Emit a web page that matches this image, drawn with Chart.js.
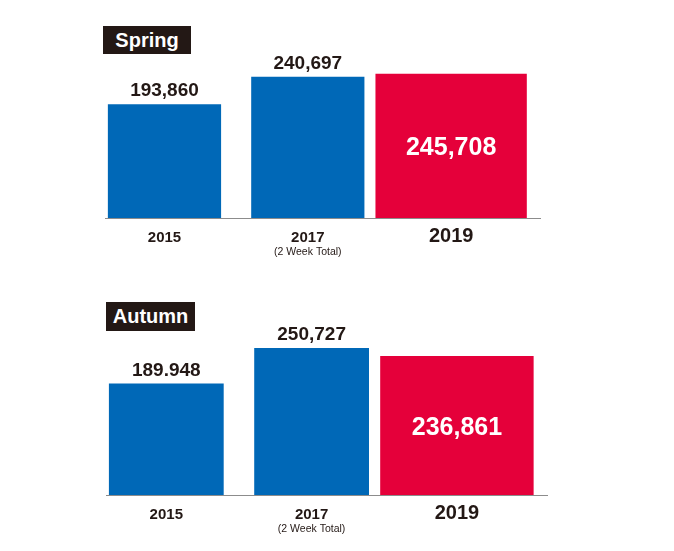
<!DOCTYPE html>
<html>
<head>
<meta charset="utf-8">
<script src="https://cdn.jsdelivr.net/npm/chart.js@4/dist/chart.umd.min.js"></script>
<style>
  html, body { margin: 0; padding: 0; background: #fff; }
  body { width: 674px; height: 551px; position: relative; overflow: hidden; font-family: "Liberation Sans", Arial, sans-serif; }
  .wrap { position: absolute; left: 0; width: 674px; height: 274px; }
  .tag { position: absolute; background: #231815; color: #fff; font-weight: bold; font-size: 20px;
         text-align: center; box-sizing: border-box; line-height: 28px; }
</style>
</head>
<body>
<div class="wrap" style="top:0px"><canvas id="spring"></canvas></div>
<div class="wrap" style="top:277px"><canvas id="autumn"></canvas></div>
<div class="tag" style="left:103px;top:26px;width:88px;height:28px;">Spring</div>
<div class="tag" style="left:106px;top:302px;width:89px;height:29px;line-height:29px;">Autumn</div>
<script>
// ---- data ----
const years = ['2015', '2017', '2019'];
const springValues = [193860, 240697, 245708];
const autumnValues = [189948, 250727, 236861];
const springLabels = ['193,860', '240,697', '245,708'];
const autumnLabels = ['189.948', '250,727', '236,861'];
const noteYear = '2017';
const noteLabel = '(2 Week Total)';
const highlightYear = '2019';

const BLUE = '#0068b7';
const RED = '#e5003a';
const INK = '#231815';
const FONT = '"Liberation Sans", Arial, sans-serif';

function makeChart(id, values, labels, xPad) {
  const blue = values.map((v, i) => years[i] === highlightYear ? null : v);
  const red = values.map((v, i) => years[i] === highlightYear ? v : null);

  const labelPlugin = {
    id: 'labels',
    afterDatasetsDraw(chart) {
      const ctx = chart.ctx;
      ctx.save();
      ctx.textAlign = 'center';
      ctx.textBaseline = 'alphabetic';
      chart.data.datasets.forEach((ds, di) => {
        const meta = chart.getDatasetMeta(di);
        meta.data.forEach((bar, i) => {
          if (ds.data[i] == null) return;
          const p = bar.getProps(['x', 'y', 'base'], true);
          if (years[i] === highlightYear) {
            ctx.fillStyle = '#fff';
            ctx.font = 'bold 25px ' + FONT;
            ctx.fillText(labels[i], p.x, (p.y + p.base) / 2 + 9);
          } else {
            ctx.fillStyle = INK;
            ctx.font = 'bold 19px ' + FONT;
            ctx.fillText(labels[i], p.x, p.y - 8);
          }
        });
      });
      // category labels under the axis
      const xs = chart.scales.x;
      ctx.fillStyle = INK;
      years.forEach(y => {
        const px = xs.getPixelForValue(+y);
        ctx.font = (y === highlightYear ? 'bold 20px ' : 'bold 15px ') + FONT;
        ctx.fillText(y, px, xs.top + 24);
        if (y === noteYear) {
          ctx.font = '10.5px ' + FONT;
          ctx.fillText(noteLabel, px, xs.top + 37);
        }
      });
      ctx.restore();
    }
  };

  return new Chart(document.getElementById(id), {
    type: 'bar',
    data: {
      labels: years,
      datasets: [
        { data: blue, backgroundColor: BLUE, barPercentage: 0.79, categoryPercentage: 1, stack: 's' },
        { data: red, backgroundColor: RED, barPercentage: 1.056, categoryPercentage: 1, stack: 's' }
      ]
    },
    options: {
      responsive: true,
      maintainAspectRatio: false,
      animation: false,
      events: [],
      layout: { padding: { left: xPad[0], right: xPad[1], top: 59.6, bottom: 6 } },
      plugins: { legend: { display: false }, tooltip: { enabled: false } },
      scales: {
        x: {
          type: 'linear',
          stacked: true,
          offset: false,
          bounds: 'data',
          min: 2014.17,
          max: 2020.24,
          grid: { display: false, drawTicks: false },
          border: { display: true, color: '#8c8c8c', width: 1 },
          afterBuildTicks: s => { s.ticks = years.map(y => ({ value: +y })); },
          afterFit: s => { s.height = 50; },
          ticks: { display: false }
        },
        y: {
          stacked: true,
          display: false,
          min: 0,
          max: 270000
        }
      }
    },
    plugins: [labelPlugin]
  });
}

makeChart('spring', springValues, springLabels, [105, 134]);
makeChart('autumn', autumnValues, autumnLabels, [106, 127]);
</script>
</body>
</html>
